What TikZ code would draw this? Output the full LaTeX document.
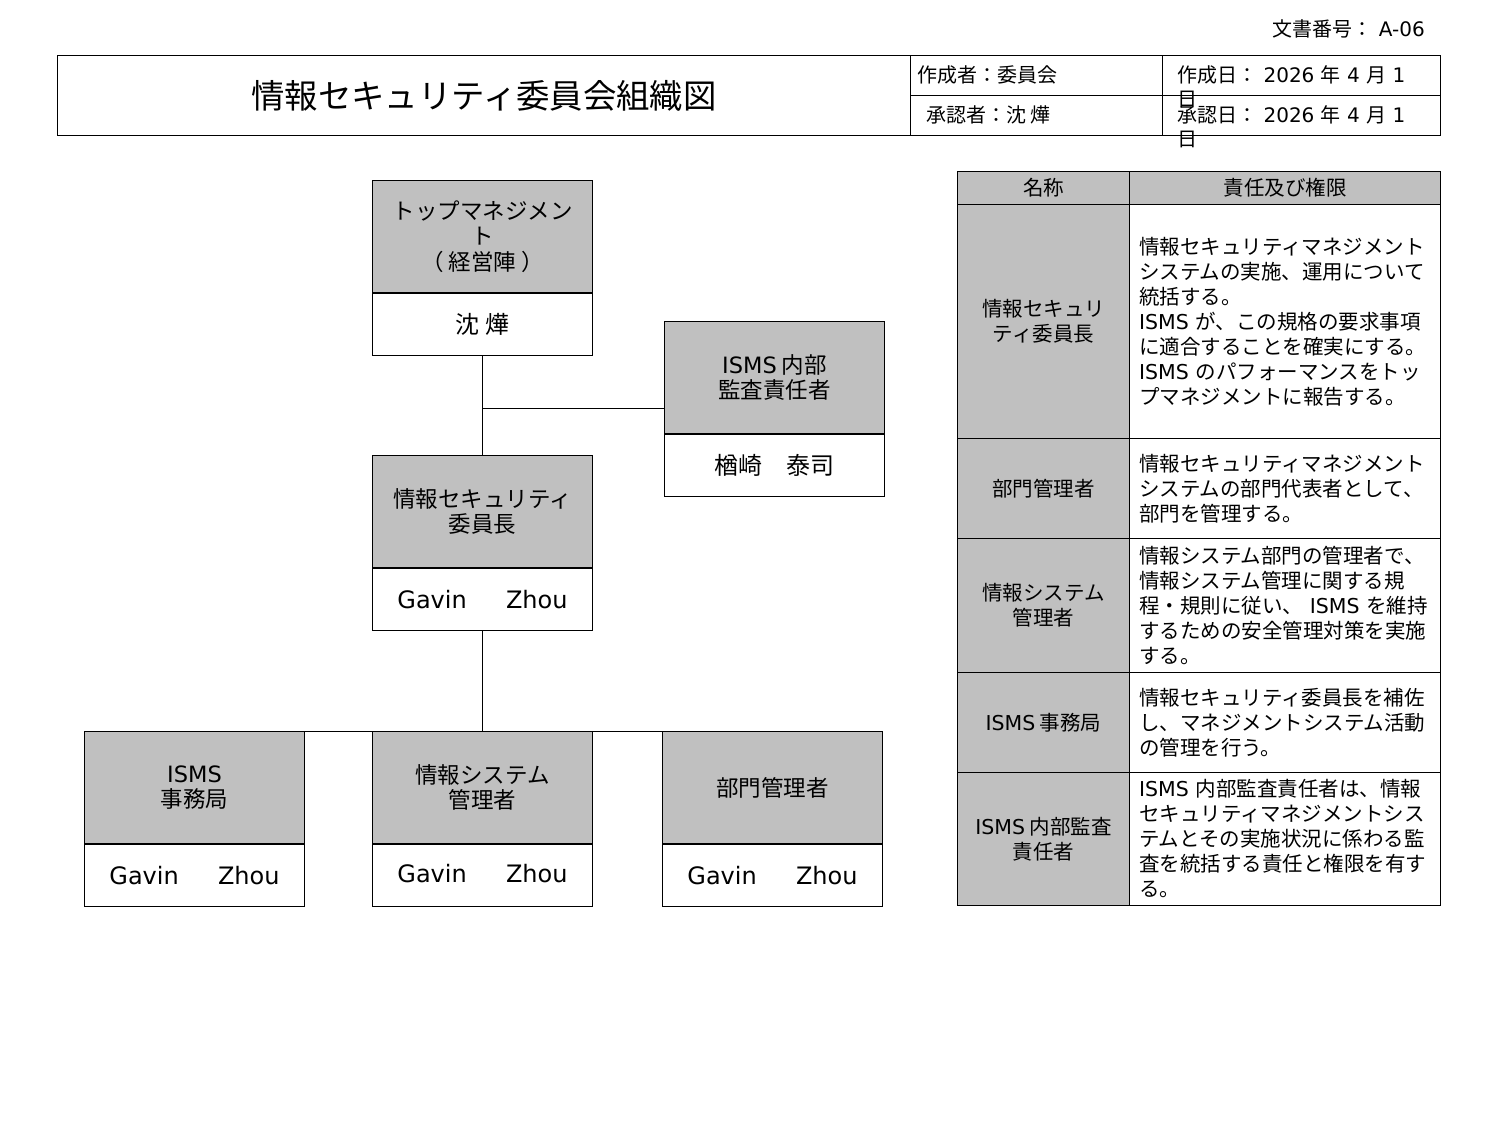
\documentclass[tikz,border=0pt]{standalone}
\usepackage{fontspec}
\setmainfont{Noto Sans CJK JP}
\newfontfamily\dejavu{DejaVu Sans}
\newcommand{\latn}[1]{{\dejavu #1}}
\usetikzlibrary{positioning}
\definecolor{boxgray}{RGB}{192,192,192}
\tikzset{
  role/.style={draw,line width=1pt,fill=boxgray,minimum width=220pt,minimum height=112pt,
    align=center,font=\fontsize{22.5}{25.5}\selectfont},
  person/.style={draw,line width=1pt,fill=white,minimum width=220pt,minimum height=62pt,
    align=center,font=\fontsize{24}{26}\selectfont},
  namecell/.style={draw,line width=1pt,fill=boxgray,minimum width=172pt,anchor=north west,
    align=center,inner sep=0pt,font=\fontsize{20.5}{25}\selectfont},
  dutycell/.style={draw,line width=1pt,minimum width=311pt,text width=292pt,anchor=north west,
    align=left,font=\fontsize{20.5}{25}\selectfont},
  headcell/.style={draw,line width=1pt,anchor=north west,minimum height=40pt},
  headtext/.style={font=\fontsize{20}{24}\selectfont,inner sep=0pt},
  link/.style={line width=1pt},
}
\begin{document}
\begin{tikzpicture}[x=1pt,y=-1pt]
  \useasboundingbox (0,0) rectangle (1500,1125);

%% header
  \node[headtext,anchor=east] (docno) at (1425,29) {文書番号：\latn{ A-06}};
  \node[draw,line width=1pt,anchor=north west,minimum width=853pt,minimum height=80pt,
        font=\fontsize{33.4}{36}\selectfont] (title) at (57,55) {情報セキュリティ委員会組織図};
  \node[headcell,minimum width=252pt] (maker) at (910,55) {};
  \node[headcell,minimum width=252pt] (approver) at (910,95) {};
  \node[headcell,minimum width=278pt] (madeon) at (1162,55) {};
  \node[headcell,minimum width=278pt] (approvedon) at (1162,95) {};
  \node[headtext,anchor=west] (makertext) at (917,75) {作成者：委員会};
  \node[headtext,anchor=west] (approvertext) at (926,115) {承認者：沈 燁};
  \node[headtext,anchor=north west,align=left] (madeontext) at (1177,65)
       {作成日：\latn{ 2026 }年\latn{ 4 }月\latn{ 1}\\日};
  \node[headtext,anchor=north west,align=left] (approvedontext) at (1177,105)
       {承認日：\latn{ 2026 }年\latn{ 4 }月\latn{ 1}\\日};

%% org chart
  \node[role,anchor=north west] (top) at (372,180) {トップマネジメン\\ト\\（ 経営陣 ）};
  \node[person,below=0pt of top] (topname) {沈 燁};

  \node[role,anchor=north west] (audit) at (664,321) {\latn{ISMS} 内部\\監査責任者};
  \node[person,below=0pt of audit] (auditname) {楢崎　泰司};

  \node[role,anchor=north west] (chair) at (372,455) {情報セキュリティ\\委員長};
  \node[person,below=0pt of chair] (chairname) {\latn{Gavin}　\latn{ \ Zhou}};

  \node[role,anchor=north west] (office) at (84,731) {\latn{ISMS}\\事務局};
  \node[person,below=0pt of office] (officename) {\latn{Gavin}　\latn{ \ Zhou}};

  \node[role,anchor=north west] (sysadm) at (372,731) {情報システム\\管理者};
  \node[person,below=0pt of sysadm,yshift=2pt,draw=none,fill=none] (sysadmname) {\latn{Gavin}　\latn{ \ Zhou}};
  \draw[line width=1pt] (sysadm.south west) rectangle ++(220,62);

  \node[role,anchor=north west] (dept) at (662,731) {部門管理者};
  \node[person,below=0pt of dept] (deptname) {\latn{Gavin}　\latn{ \ Zhou}};

%% links
  \coordinate (auditjoin) at (664,408);
  \draw[link] (topname.south) -- (chair.north);
  \draw[link] (topname.south |- auditjoin) -- (auditjoin);
  \draw[link] (chairname.south) -- (sysadm.north);
  \draw[link] (office.north east) -- (dept.north west);

%% table
  \node[namecell,minimum height=33pt] (hname) at (957,171) {名称};
  \node[dutycell,fill=boxgray,align=center,minimum height=33pt] (hduty) at (1129,171) {責任及び権限};

  \node[namecell,minimum height=234pt] (name1) at (957,204) {情報セキュリ\\ティ委員長};
  \node[dutycell,minimum height=234pt] (duty1) at (1129,204)
       {情報セキュリティマネジメント\\システムの実施、運用について\\統括する。\\
        \latn{ISMS} が、この規格の要求事項\\に適合することを確実にする。\\
        \latn{ISMS} のパフォーマンスをトッ\\プマネジメントに報告する。};

  \node[namecell,minimum height=100pt] (name2) at (957,438) {部門管理者};
  \node[dutycell,minimum height=100pt] (duty2) at (1129,438)
       {情報セキュリティマネジメント\\システムの部門代表者として、\\部門を管理する。};

  \node[namecell,minimum height=134pt] (name3) at (957,538) {情報システム\\管理者};
  \node[dutycell,minimum height=134pt] (duty3) at (1129,538)
       {情報システム部門の管理者で、\\情報システム管理に関する規\\
        程・規則に従い、 \latn{ISMS} を維持\\するための安全管理対策を実施\\する。};

  \node[namecell,minimum height=100pt] (name4) at (957,672) {\latn{ISMS} 事務局};
  \node[dutycell,minimum height=100pt] (duty4) at (1129,672)
       {情報セキュリティ委員長を補佐\\し、マネジメントシステム活動\\の管理を行う。};

  \node[namecell,minimum height=133pt] (name5) at (957,772) {\latn{ISMS} 内部監査\\責任者};
  \node[dutycell,minimum height=133pt] (duty5) at (1129,772)
       {\latn{ISMS} 内部監査責任者は、情報\\セキュリティマネジメントシス\\
        テムとその実施状況に係わる監\\査を統括する責任と権限を有す\\る。};
\end{tikzpicture}
\end{document}
